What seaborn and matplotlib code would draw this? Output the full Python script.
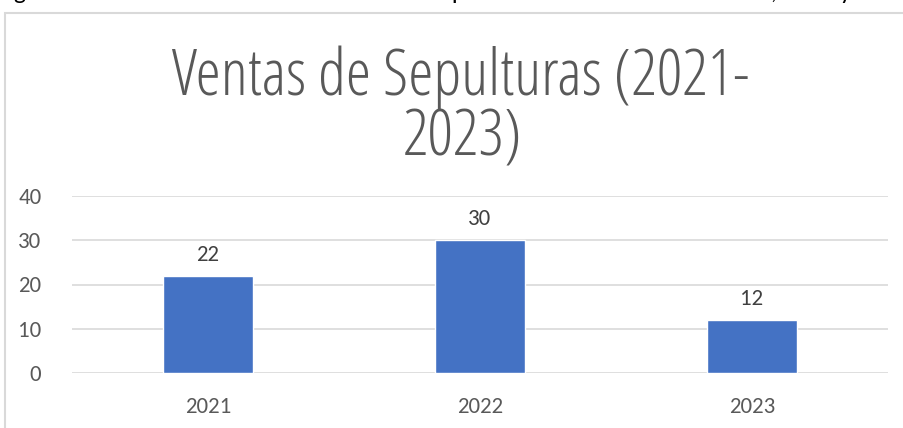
import matplotlib
matplotlib.use("Agg")
import matplotlib.pyplot as plt
from matplotlib.patches import Rectangle
import seaborn as sns
import pandas as pd

# ─────────────────────────────────────────────
# DATA
# ─────────────────────────────────────────────
years = ["2021", "2022", "2023"]
ventas = [22, 30, 12]
y_ticks = [0, 10, 20, 30, 40]
titulo = ["Ventas de Sepulturas (2021-", "2023)"]
texto_previo = "gráfico muestra el número de ventas de sepulturas durante los años 2021, 2022 y 2023."

df = pd.DataFrame({"anio": years, "ventas": ventas})

# ─────────────────────────────────────────────
# STYLE
# ─────────────────────────────────────────────
sns.set_theme(style="white")
plt.rcParams["font.family"] = ["Carlito", "DejaVu Sans"]

BAR = "#4472C4"
GRID = "#D9D9D9"
TXT = "#595959"

fig = plt.figure(figsize=(9.04, 4.28), dpi=100)
W, H = 904, 428

# sentence of the document above the chart, cut by the screenshot
fig.text(14 / W, 1 + 1 / H, texto_previo, ha="left", va="baseline",
         fontsize=18.3, color="black")

# chart area border (Excel-like), open to the right/bottom
fig.patches.append(Rectangle((5 / W, -0.2), 1.2, 1.2 - 13 / H,
                             transform=fig.transFigure, fill=False,
                             edgecolor=GRID, lw=1.5))

ax = fig.add_axes([72 / W, 1 - 373 / H, 816 / W, 177 / H])
sns.barplot(data=df, x="anio", y="ventas", color=BAR, width=0.33,
            saturation=1, ax=ax)

ax.set_ylim(0, 40)
ax.set_xlim(-0.5, 2.5)
ax.set_yticks(y_ticks)
ax.yaxis.grid(True, color=GRID, lw=1.2)
ax.set_axisbelow(True)
for s in ax.spines.values():
    s.set_visible(False)
ax.set_xlabel("")
ax.set_ylabel("")
ax.tick_params(axis="y", length=0, pad=22, labelsize=16.5, labelcolor=TXT)
ax.tick_params(axis="x", length=0, pad=17, labelsize=16.5, labelcolor=TXT)

for cont in ax.containers:
    ax.bar_label(cont, padding=8, fontsize=16.5, color="#404040")

# title (two lines, wrapped as in the original)
for txt, xc, yb in zip(titulo, [461, 462], [95, 155]):
    fig.text(xc / W, 1 - yb / H, txt, ha="center", va="baseline",
             fontsize=46, color=TXT, family="Open Sans", weight=300,
             stretch="condensed")

fig.savefig("out.png", dpi=100)
